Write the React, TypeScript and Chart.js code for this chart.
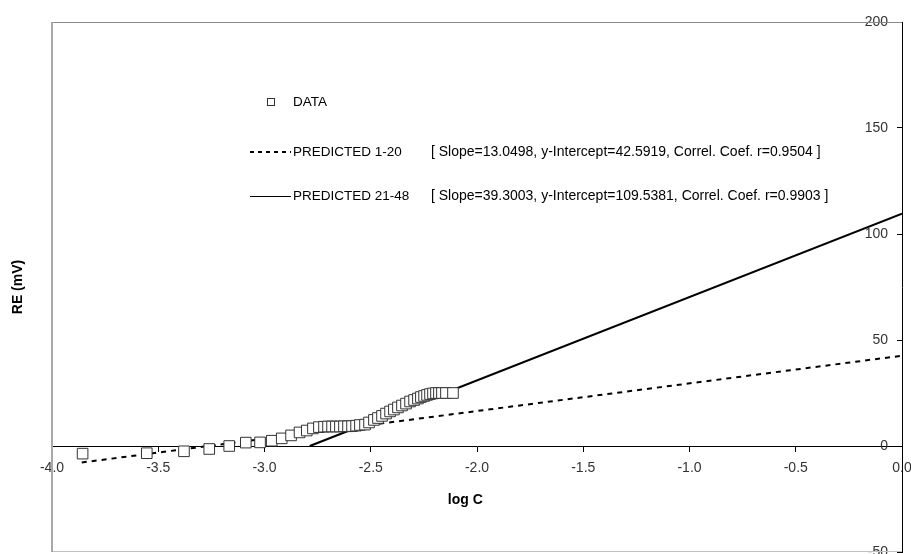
import React, { useEffect, useRef } from 'react';
import { Chart, registerables } from 'chart.js';

Chart.register(...registerables);

// ---- data ----
const logC = [
  -3.856, -3.554, -3.379, -3.26, -3.166, -3.088, -3.021, -2.966, -2.919, -2.875,
  -2.835, -2.801, -2.772, -2.744, -2.72, -2.701, -2.682, -2.664, -2.645, -2.626,
  -2.607, -2.588, -2.569, -2.551, -2.527, -2.508, -2.485, -2.466, -2.447, -2.428,
  -2.409, -2.391, -2.372, -2.353, -2.334, -2.315, -2.296, -2.278, -2.264, -2.249,
  -2.235, -2.221, -2.207, -2.193, -2.179, -2.165, -2.146, -2.113,
];
const reMV = [
  -3.6, -3.4, -2.5, -1.4, 0.0, 1.6, 1.7, 2.5, 3.6, 5.0,
  6.4, 7.3, 8.3, 8.9, 9.1, 9.2, 9.2, 9.2, 9.2, 9.3,
  9.3, 9.4, 9.6, 9.9, 10.1, 11.1, 12.3, 13.2, 14.2, 15.3,
  16.3, 17.2, 18.2, 19.1, 20.0, 21.0, 21.7, 22.4, 23.1, 23.6,
  24.1, 24.5, 24.8, 25.0, 25.0, 25.0, 25.0, 25.0,
];
const pred1X = [-3.86, 0];
const pred1Y = [-7.78, 42.59];
const pred2X = [-2.787, 0];
const pred2Y = [0, 109.54];

const xMin = -4;
const xMax = 0;
const xStep = 0.5;
const yMin = -50;
const yMax = 200;
const yStep = 50;

const seriesNames = ['DATA', 'PREDICTED 1-20', 'PREDICTED 21-48'];
const fitNotes = [
  '',
  '[ Slope=13.0498, y-Intercept=42.5919, Correl. Coef. r=0.9504 ]',
  '[ Slope=39.3003, y-Intercept=109.5381, Correl. Coef. r=0.9903 ]',
];
const xTitle = 'log C';
const yTitle = 'RE (mV)';

const FONT = '"Liberation Sans", Arial, sans-serif';

const framePlugin = {
  id: 'frame',
  beforeDatasetsDraw(chart: any) {
    const { ctx, chartArea: a } = chart;
    ctx.save();
    ctx.lineWidth = 1;
    ctx.strokeStyle = '#8a8a8a';
    ctx.beginPath();
    ctx.moveTo(a.left, a.top + 0.5);
    ctx.lineTo(a.right, a.top + 0.5);
    ctx.stroke();
    ctx.strokeStyle = '#c0c0c0';
    ctx.beginPath();
    ctx.moveTo(a.left, a.bottom - 0.5);
    ctx.lineTo(a.right, a.bottom - 0.5);
    ctx.stroke();
    ctx.lineWidth = 2;
    ctx.strokeStyle = '#a8a8a8';
    ctx.beginPath();
    ctx.moveTo(a.left, a.top);
    ctx.lineTo(a.left, a.bottom);
    ctx.stroke();
    ctx.restore();
  },
};

const legendPlugin = {
  id: 'legendBox',
  afterDraw(chart: any) {
    const ctx = chart.ctx;
    ctx.save();
    ctx.font = '13.5px ' + FONT;
    ctx.fillStyle = '#000';
    ctx.textBaseline = 'middle';
    ctx.textAlign = 'left';
    // DATA
    ctx.strokeStyle = '#333';
    ctx.lineWidth = 1;
    ctx.strokeRect(267.5, 98.5, 7, 7);
    ctx.fillText(seriesNames[0], 293, 102);
    // PREDICTED 1-20
    ctx.strokeStyle = '#000';
    ctx.lineWidth = 2;
    ctx.setLineDash([4, 4]);
    ctx.beginPath();
    ctx.moveTo(250, 152);
    ctx.lineTo(291, 152);
    ctx.stroke();
    ctx.setLineDash([]);
    ctx.fillText(seriesNames[1], 293, 152);
    // PREDICTED 21-48
    ctx.lineWidth = 1;
    ctx.beginPath();
    ctx.moveTo(250, 196.5);
    ctx.lineTo(291, 196.5);
    ctx.stroke();
    ctx.fillText(seriesNames[2], 293, 196);
    ctx.font = '14px ' + FONT;
    ctx.fillText(fitNotes[1], 431, 152);
    ctx.fillText(fitNotes[2], 431, 196);
    ctx.restore();
  },
};

export default function App() {
  const ref = useRef<HTMLCanvasElement | null>(null);

  useEffect(() => {
    document.body.style.margin = '0';
    const canvas = ref.current;
    if (!canvas) return;

    const chart = new Chart(canvas, {
      type: 'scatter',
      data: {
        datasets: [
          {
            label: seriesNames[0],
            data: logC.map((x, i) => ({ x, y: reMV[i] })),
            pointStyle: 'rect',
            pointRadius: 7.5,
            pointBorderColor: '#333',
            pointBackgroundColor: '#fff',
            pointBorderWidth: 1,
            showLine: false,
          },
          {
            label: seriesNames[1],
            data: pred1X.map((x, i) => ({ x, y: pred1Y[i] })),
            showLine: true,
            borderColor: '#000',
            borderWidth: 2,
            borderDash: [5, 5],
            pointRadius: 0,
          },
          {
            label: seriesNames[2],
            data: pred2X.map((x, i) => ({ x, y: pred2Y[i] })),
            showLine: true,
            borderColor: '#000',
            borderWidth: 2,
            pointRadius: 0,
          },
        ],
      },
      options: {
        responsive: false,
        animation: false,
        devicePixelRatio: 1,
        layout: { padding: { top: 22, right: 0, bottom: 2, left: 0 }, autoPadding: false },
        plugins: { legend: { display: false }, tooltip: { enabled: false } },
        scales: {
          x: {
            type: 'linear',
            position: { y: 0 },
            min: xMin,
            max: xMax,
            ticks: {
              stepSize: xStep,
              callback: (v: any) => Number(v).toFixed(1),
              font: { family: FONT, size: 14 },
              color: '#333',
              padding: 9,
              maxRotation: 0,
              autoSkip: false,
            },
            grid: { drawOnChartArea: false, drawTicks: true, tickLength: 5, color: '#000' },
            border: { display: true, color: '#000', width: 1 },
            title: {
              display: true,
              text: xTitle + '      ',
              font: { family: FONT, size: 14, weight: 'bold' },
              color: '#000',
            },
            afterFit: (s: any) => {
              s.height = 67;
              s.paddingLeft = 0;
              s.paddingRight = 0;
            },
          },
          y: {
            type: 'linear',
            position: 'right',
            min: yMin,
            max: yMax,
            ticks: {
              stepSize: yStep,
              mirror: true,
              padding: -14,
              font: { family: FONT, size: 14 },
              color: '#333',
            },
            grid: { drawOnChartArea: false, drawTicks: true, tickLength: -5, color: '#000' },
            border: { display: true, color: '#000', width: 1 },
            afterFit: (s: any) => {
              s.width = 9;
              s.paddingTop = 0;
              s.paddingBottom = 0;
            },
          },
          yl: {
            type: 'linear',
            position: 'left',
            min: yMin,
            max: yMax,
            ticks: { display: false },
            grid: { display: false },
            border: { display: false },
            title: {
              display: true,
              text: yTitle,
              font: { family: FONT, size: 14, weight: 'bold' },
              color: '#000',
              padding: { top: 10, bottom: 4 },
            },
            afterFit: (s: any) => {
              s.width = 52;
              s.paddingTop = 0;
              s.paddingBottom = 0;
            },
          },
        },
      } as any,
      plugins: [framePlugin, legendPlugin],
    });

    return () => chart.destroy();
  }, []);

  return (
    <div style={{ width: 911, height: 554 }}>
      <canvas ref={ref} width={911} height={554} style={{ display: 'block', width: 911, height: 554 }} />
    </div>
  );
}
